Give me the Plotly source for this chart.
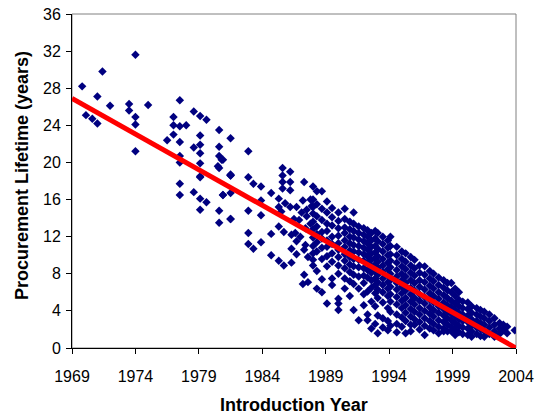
import plotly.graph_objects as go

# ---- Data (estimates) ----
early_years = [1969.8, 1971.4, 1974.0, 1970.1, 1970.6, 1971.0, 1971.0, 1972.0, 1973.5, 1973.5,
               1974.0, 1974.0, 1975.0, 1974.0, 1977.5, 1977.0, 1977.0, 1977.5, 1978.0, 1977.0,
               1976.5, 1977.5, 1978.6, 1979.1, 1979.6, 1980.6, 1981.5, 1979.1, 1979.1, 1978.6,
               1979.1, 1980.6, 1980.6, 1980.8, 1977.5, 1977.5, 1979.1, 1980.6, 1981.5, 1979.1,
               1980.5, 1979.1, 1981.5, 1977.5, 1977.5, 1978.6, 1979.1, 1979.6, 1980.9, 1981.5,
               1979.1, 1980.6, 1980.6, 1981.5, 1982.9, 1980.9, 1981.5, 1982.9, 1983.3, 1983.9,
               1980.9, 1984.7, 1983.9, 1982.9, 1983.9]
early_life = [28.2, 29.8, 31.6, 25.1, 24.7, 24.2, 27.1, 26.1, 26.3, 25.6,
              24.9, 24.1, 26.2, 21.2, 26.7, 24.9, 24.0, 23.9, 24.0, 23.0,
              22.4, 22.2, 25.5, 25.0, 24.6, 23.5, 22.6, 22.9, 21.9, 21.6,
              21.0, 21.7, 20.7, 20.3, 20.7, 20.0, 19.9, 19.4, 18.6, 18.5,
              19.6, 18.4, 18.6, 17.7, 16.5, 16.8, 16.1, 15.7, 16.5, 16.7,
              14.9, 14.8, 13.5, 13.9, 21.2, 20.3, 18.7, 18.4, 17.7, 17.4,
              16.5, 16.7, 15.9, 14.8, 14.3]

mid_years = [1981.5, 1985.6, 1986.2, 1985.6, 1985.6, 1985.6, 1986.2, 1986.2, 1987.3, 1985.3,
             1985.8, 1986.2, 1987.2, 1986.7, 1987.5, 1985.3, 1985.5, 1982.9, 1984.7, 1985.3,
             1985.7, 1986.3, 1986.6, 1982.9, 1983.3, 1983.9, 1984.7, 1985.3, 1985.7, 1986.3,
             1986.3, 1986.7, 1986.7, 1987.4, 1987.3, 1987.2, 1987.6, 1987.5, 1987.8, 1987.4,
             1986.9, 1987.0, 1987.3, 1987.6, 1987.1, 1987.8, 1986.5, 1987.9]
mid_life = [13.9, 19.4, 19.0, 18.6, 17.9, 17.2, 17.9, 17.0, 17.9, 16.1,
            15.6, 15.2, 15.9, 15.2, 14.9, 15.2, 14.7, 12.4, 12.3, 13.1,
            12.5, 12.2, 12.4, 11.2, 10.7, 11.4, 10.0, 9.4, 8.9, 9.2,
            10.7, 10.1, 11.5, 11.1, 7.9, 6.9, 7.1, 14.2, 13.4, 12.9,
            13.8, 12.0, 10.6, 9.8, 14.6, 16.0, 13.9, 15.3]

late_cols = [1988.0, 1988.3, 1988.7, 1989.1, 1989.5, 1990.0, 1990.5, 1990.9, 1991.2, 1991.6,
             1992.0, 1992.3, 1992.6, 1992.9, 1993.1, 1993.5, 1993.9, 1994.1, 1994.6, 1995.0,
             1995.3, 1995.7, 1996.0, 1996.4, 1996.8, 1997.2, 1997.5, 1997.9, 1998.3, 1998.6,
             1998.9, 1999.2, 1999.5, 1999.8, 2000.2, 2000.5, 2000.9, 2001.2, 2001.5, 2001.9,
             2002.3, 2002.7, 2003.0, 2003.3, 2003.9]
late_life = [
    [17.4, 16.0, 15.2, 14.5, 13.6, 12.8, 11.9, 11.0, 10.2, 9.5, 8.9],
    [16.9, 15.5, 14.2, 13.1, 12.3, 11.4, 10.4, 8.3, 6.4],
    [16.9, 15.0, 13.8, 12.5, 11.8, 10.8, 9.6, 7.4, 6.0],
    [15.8, 14.6, 13.4, 12.6, 11.6, 10.9, 9.9, 8.8, 4.8],
    [15.1, 14.1, 13.2, 12.0, 11.2, 10.2, 9.3, 7.5, 6.8],
    [14.6, 13.7, 12.9, 12.1, 11.3, 10.6, 9.8, 8.9, 8.0, 5.3, 4.8, 4.1],
    [15.0, 13.9, 13.0, 12.4, 11.6, 10.9, 10.1, 9.4, 8.6, 7.5, 6.4],
    [13.6, 12.8, 12.0, 11.3, 10.5, 9.8, 9.0, 8.2, 7.2, 5.6],
    [14.6, 13.4, 12.6, 11.9, 11.1, 10.4, 9.6, 8.8, 7.9, 6.9, 4.1],
    [13.1, 12.4, 11.7, 11.0, 10.3, 9.5, 8.7, 7.7, 6.4, 3.0],
    [12.9, 12.2, 11.5, 10.8, 10.1, 9.4, 8.6, 7.8, 7.0, 5.8, 4.6],
    [12.7, 12.0, 11.3, 10.6, 9.9, 9.2, 8.4, 7.6, 6.1, 3.6, 3.0],
    [12.4, 11.6, 10.9, 10.2, 9.5, 8.8, 8.1, 7.3, 6.5, 5.0, 2.1],
    [12.6, 11.8, 11.0, 10.3, 9.7, 9.0, 8.3, 7.5, 6.8, 5.9, 4.5, 2.6],
    [12.4, 11.5, 10.7, 9.9, 9.3, 8.6, 7.9, 7.1, 6.3, 5.4, 3.5, 1.6],
    [12.0, 11.2, 10.4, 9.6, 8.9, 8.2, 7.5, 6.8, 6.0, 4.9, 3.2, 2.2],
    [11.6, 10.8, 10.0, 9.2, 8.5, 7.8, 7.1, 6.4, 5.6, 4.3, 2.9, 1.9],
    [12.0, 11.0, 10.1, 9.4, 8.7, 8.0, 7.3, 6.6, 5.8, 5.0, 3.9, 2.4],
    [10.9, 10.0, 9.2, 8.4, 7.7, 7.0, 6.3, 5.5, 4.7, 3.6, 2.6, 1.7],
    [10.4, 9.6, 8.8, 8.0, 7.3, 6.6, 5.9, 5.1, 4.3, 3.3, 2.3],
    [10.2, 9.3, 8.5, 7.7, 7.0, 6.2, 5.4, 4.6, 3.8, 2.9, 1.6],
    [9.8, 8.9, 8.1, 7.3, 6.5, 5.8, 5.0, 4.2, 3.4, 2.5, 1.8],
    [9.5, 8.6, 7.8, 7.0, 6.2, 5.4, 4.7, 3.9, 3.1, 2.5],
    [8.9, 8.1, 7.3, 6.6, 5.8, 5.1, 4.3, 3.6, 2.8, 2.0],
    [8.8, 7.9, 7.1, 6.3, 5.5, 4.8, 4.0, 3.2, 2.4, 1.4],
    [8.3, 7.5, 6.7, 5.9, 5.2, 4.4, 3.7, 2.9, 2.1],
    [8.0, 7.2, 6.4, 5.6, 4.9, 4.1, 3.4, 2.6, 1.9],
    [7.6, 6.8, 6.0, 5.3, 4.5, 3.8, 3.0, 2.3, 1.6],
    [7.3, 6.5, 5.7, 4.9, 4.2, 3.5, 2.8, 2.1, 1.8],
    [7.0, 6.2, 5.4, 4.6, 3.9, 3.2, 2.5, 1.8],
    [7.0, 6.0, 5.1, 4.4, 3.7, 3.0, 2.3, 1.8],
    [6.4, 5.6, 4.8, 4.1, 3.4, 2.7, 2.0, 1.4],
    [6.0, 5.2, 4.5, 3.8, 3.1, 2.4, 1.7],
    [5.0, 4.3, 3.6, 2.9, 2.2, 1.5],
    [4.9, 4.2, 3.5, 2.8, 2.1, 1.4],
    [4.5, 3.8, 3.1, 2.4, 1.8, 1.2],
    [4.3, 3.6, 2.9, 2.2, 1.5],
    [4.1, 3.4, 2.7, 2.0, 1.3],
    [3.9, 3.2, 2.5, 1.8, 1.2],
    [3.6, 2.9, 2.2, 1.5],
    [3.2, 2.5, 1.8, 1.2],
    [2.7, 2.1, 1.5],
    [2.5, 1.9],
    [2.3, 1.6],
    [1.9],
]

trend_years = [1969, 2004]
trend_life = [26.9, 0.0]

x_ticks = [1969, 1974, 1979, 1984, 1989, 1994, 1999, 2004]
y_ticks = [0, 4, 8, 12, 16, 20, 24, 28, 32, 36]

x_title = "Introduction Year"
y_title = "Procurement Lifetime (years)"

# ---- Assemble ----
xs = list(early_years) + list(mid_years)
ys = list(early_life) + list(mid_life)
for yr, vals in zip(late_cols, late_life):
    for v in vals:
        xs.append(yr)
        ys.append(v)

FONT = "Liberation Sans, Arial, sans-serif"

fig = go.Figure()
fig.add_trace(go.Scatter(
    x=xs, y=ys, mode="markers",
    marker=dict(symbol="diamond", size=6.5, color="#000080", line=dict(width=0)),
    showlegend=False, hoverinfo="skip"))
fig.add_trace(go.Scatter(
    x=trend_years, y=trend_life, mode="lines",
    line=dict(color="#FF0000", width=5),
    showlegend=False, hoverinfo="skip"))

fig.update_layout(
    width=541, height=420,
    margin=dict(l=72, r=25, t=14, b=72),
    paper_bgcolor="white", plot_bgcolor="white",
    font=dict(family=FONT, size=16, color="black"),
    xaxis=dict(
        range=[1969, 2004], tickmode="array", tickvals=x_ticks,
        ticktext=[str(t) for t in x_ticks], automargin=False,
        showgrid=False, zeroline=False, showline=True, linecolor="black", linewidth=1,
        ticks="outside", ticklen=5, tickcolor="black", ticklabelstandoff=9,
        tickfont=dict(family=FONT, size=16),
    ),
    yaxis=dict(
        range=[0, 36], tickmode="array", tickvals=y_ticks, automargin=False,
        showgrid=False, zeroline=False, showline=True, linecolor="black", linewidth=1,
        ticks="outside", ticklen=5, tickcolor="black", ticklabelstandoff=2,
        tickfont=dict(family=FONT, size=16),
    ),
    shapes=[dict(type="rect", xref="paper", yref="paper", x0=0, y0=0, x1=1, y1=1,
                 line=dict(color="#808080", width=1), layer="below")],
    annotations=[
        dict(text="<b>" + x_title + "</b>", xref="paper", yref="paper",
             x=0.5, y=(348 - 405) / 334, xanchor="center", yanchor="middle",
             showarrow=False, font=dict(family=FONT, size=18, color="black")),
        dict(text="<b>" + y_title + "</b>", xref="paper", yref="paper",
             x=(22 - 72) / 444, y=0.515, xanchor="center", yanchor="middle",
             textangle=-90, showarrow=False, font=dict(family=FONT, size=18, color="black")),
    ],
)

fig.write_html("out.html", config={"displayModeBar": False},
               post_script="document.body.style.margin='0px';")
